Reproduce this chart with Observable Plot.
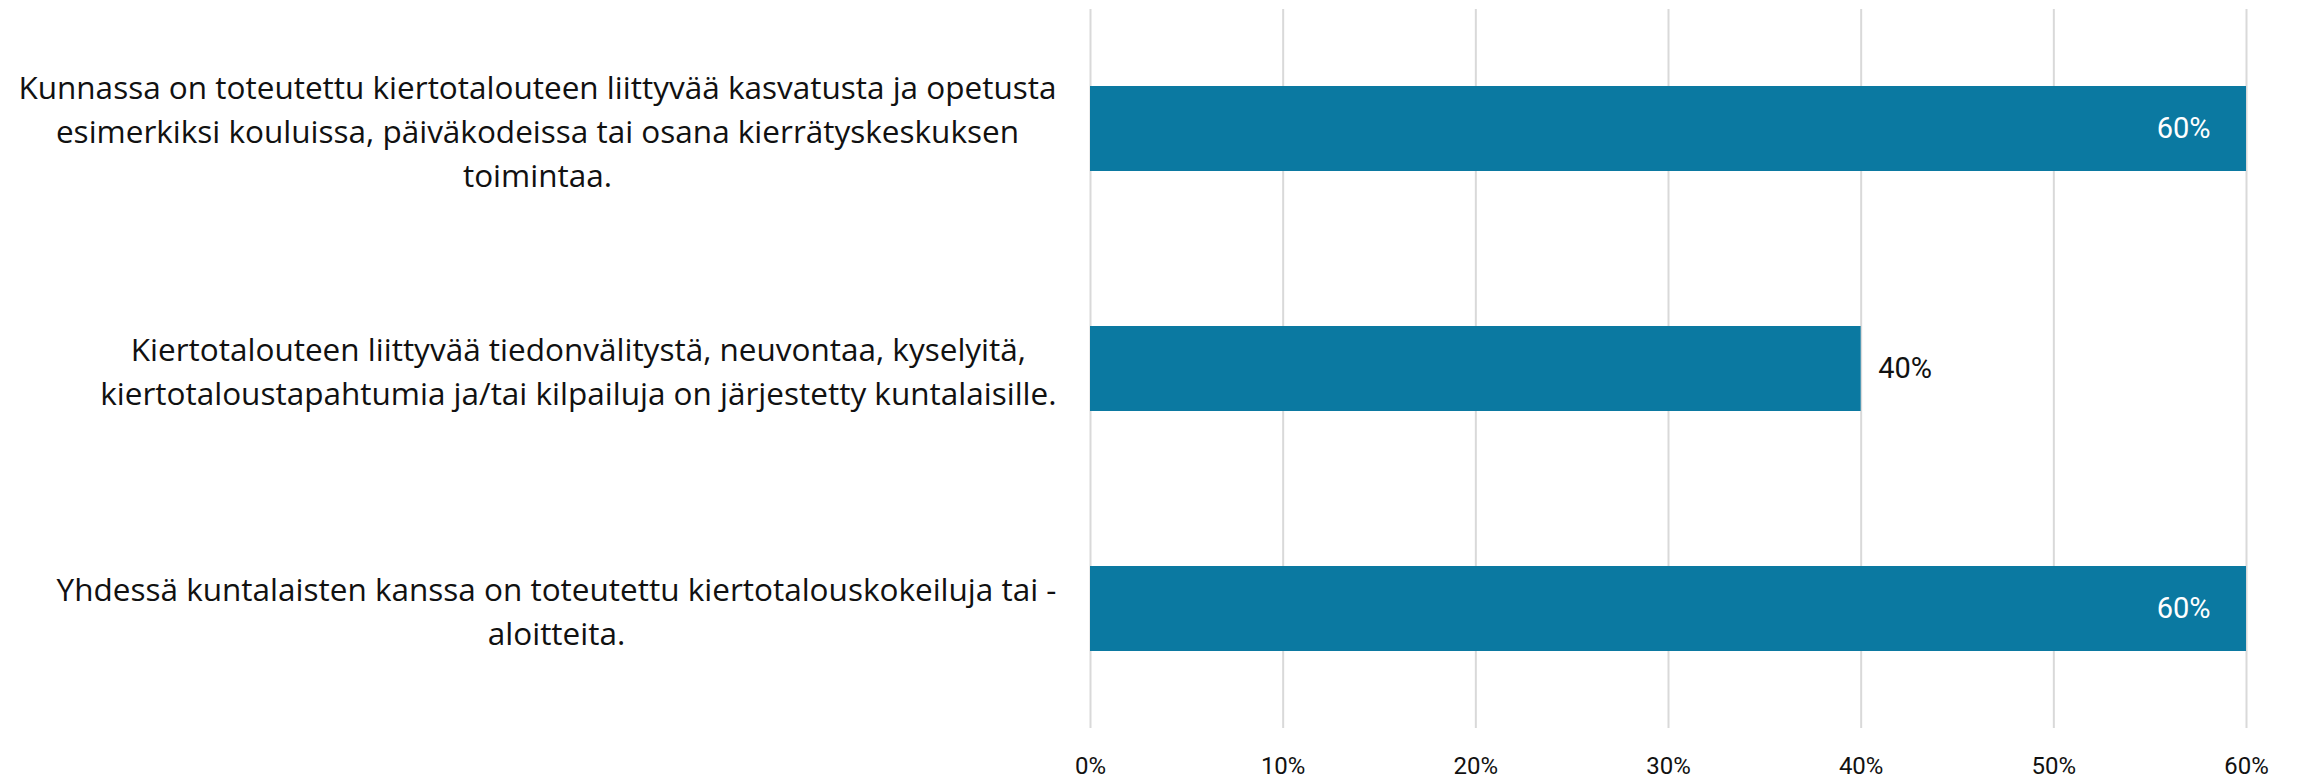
<!DOCTYPE html>
<html><head><meta charset="utf-8">
<script src="https://cdn.jsdelivr.net/npm/d3@7"></script>
<script src="https://cdn.jsdelivr.net/npm/@observablehq/plot@0.6"></script>
<style>html,body{margin:0;padding:0;background:#fff;} svg{display:block}</style>
</head><body><div id="chart"></div>
<script>
const categories = [
  "Kunnassa on toteutettu kiertotalouteen liittyvää kasvatusta ja opetusta\nesimerkiksi kouluissa, päiväkodeissa tai osana kierrätyskeskuksen\ntoimintaa.",
  "Kiertotalouteen liittyvää tiedonvälitystä, neuvontaa, kyselyitä,\nkiertotaloustapahtumia ja/tai kilpailuja on järjestetty kuntalaisille.",
  "Yhdessä kuntalaisten kanssa on toteutettu kiertotalouskokeiluja tai -\naloitteita."
];
const values = [0.6, 0.4, 0.6];
const valueLabels = ["60%", "40%", "60%"];
const xTicks = [0, 0.1, 0.2, 0.3, 0.4, 0.5, 0.6];

const data = categories.map((c, i) => ({category: c, value: values[i], label: valueLabels[i]}));

const labelSize = 31.5;
const labelFamily = "'Open Sans'";
const ctx = document.createElement("canvas").getContext("2d");
ctx.font = `${labelSize}px ${labelFamily}`;
const widest = s => d3.max(s.split("\n"), l => ctx.measureText(l).width);

const catMarks = data.map(d => Plot.text([d], {
  x: () => 0, y: "category", text: "category",
  textAnchor: "middle", lineAnchor: "middle", lineHeight: 44 / labelSize,
  dx: -(widest(d.category) / 2 + 34),
  fontSize: labelSize, fontFamily: labelFamily, fill: "#111"
}));

const chart = Plot.plot({
  width: 2297, height: 779,
  marginLeft: 1090, marginRight: 51, marginTop: 9, marginBottom: 51,
  style: {fontFamily: "Roboto", fontSize: "24px", background: "#fff", color: "#111"},
  x: {domain: [0, 0.6]},
  y: {domain: categories, paddingInner: 0.645, paddingOuter: 0.32, axis: null},
  marks: [
    Plot.gridX(xTicks, {stroke: "#d9d9d9", strokeOpacity: 1, strokeWidth: 2}),
    Plot.barX(data, {x: "value", y: "category", fill: "#0b79a1"}),
    Plot.text(data.filter(d => d.value >= 0.5), {x: "value", y: "category", text: "label", textAnchor: "end", dx: -36, fill: "white", fontSize: 29}),
    Plot.text(data.filter(d => d.value < 0.5), {x: "value", y: "category", text: "label", textAnchor: "start", dx: 17, fill: "#111", fontSize: 29}),
    Plot.axisX(xTicks, {tickFormat: d3.format(".0%"), tickSize: 0, tickPadding: 28, fontSize: 24, fill: "#111", label: null}),
    ...catMarks
  ]
});
document.getElementById("chart").appendChild(chart);
</script>
</body></html>
